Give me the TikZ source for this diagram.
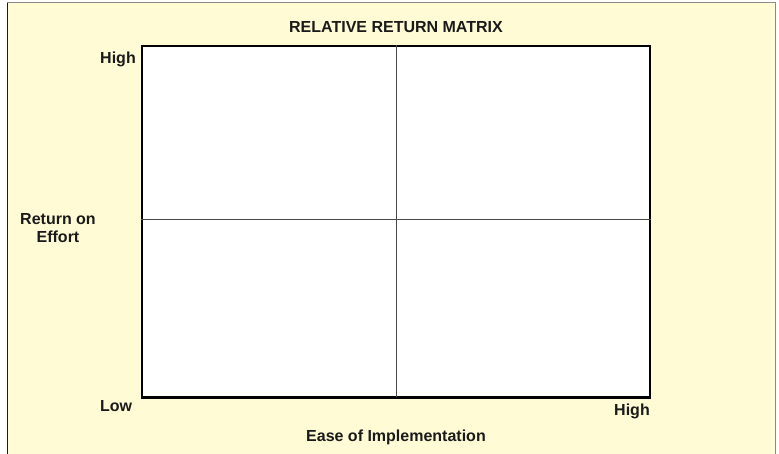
\documentclass[tikz,border=0pt]{standalone}
\usepackage{fontspec}
\setmainfont{Liberation Sans}
\usepackage{xcolor}
\definecolor{paper}{HTML}{FFFCD5}
\definecolor{rim}{HTML}{8A8A8A}
\definecolor{ink}{HTML}{1A1A1A}
\usetikzlibrary{positioning}

\begin{document}
\begin{tikzpicture}[
  x=1pt, y=-1pt,
  font=\fontsize{16}{18.5}\selectfont\bfseries,
  lbl/.style={text=ink, inner sep=0pt, align=center},
  divider/.style={draw=ink!80, line width=0.8pt}
]
  \useasboundingbox (0,0) rectangle (779,453);
  % sheet behind the chart
  \fill[paper] (7.5,2.5) rectangle (775.5,455);
  \draw[rim, line width=1pt] (7.5,455) -- (7.5,2.5) -- (775.5,2.5) -- (775.5,455);
  \draw[ink, line width=0.8pt] (7.5,3) -- (7.5,455);

  % plot area with its four quadrants
  \node[draw=black, fill=white, line width=1.3pt, inner sep=0pt,
        minimum width=508, minimum height=351] (grid) at (396,221.5) {};
  \draw[divider] (grid.north) -- (grid.south);
  \draw[divider] ([yshift=2.5]grid.west) -- ([yshift=2.5]grid.east);
  \draw[black, line width=2pt] (grid.south west) -- (grid.south east);

  \node[lbl] (title) at (396,27) {RELATIVE RETURN MATRIX};
  \node[lbl] (yhigh) at (118,59) {High};
  \node[lbl] (ylow)  at (116,406) {Low};
  \node[lbl] (xhigh) at (632,411) {High};
  \node[lbl] (yname) at (58,228) {Return on\\Effort};
  \node[lbl] (xname) at (396,437) {Ease of Implementation};
\end{tikzpicture}
\end{document}
